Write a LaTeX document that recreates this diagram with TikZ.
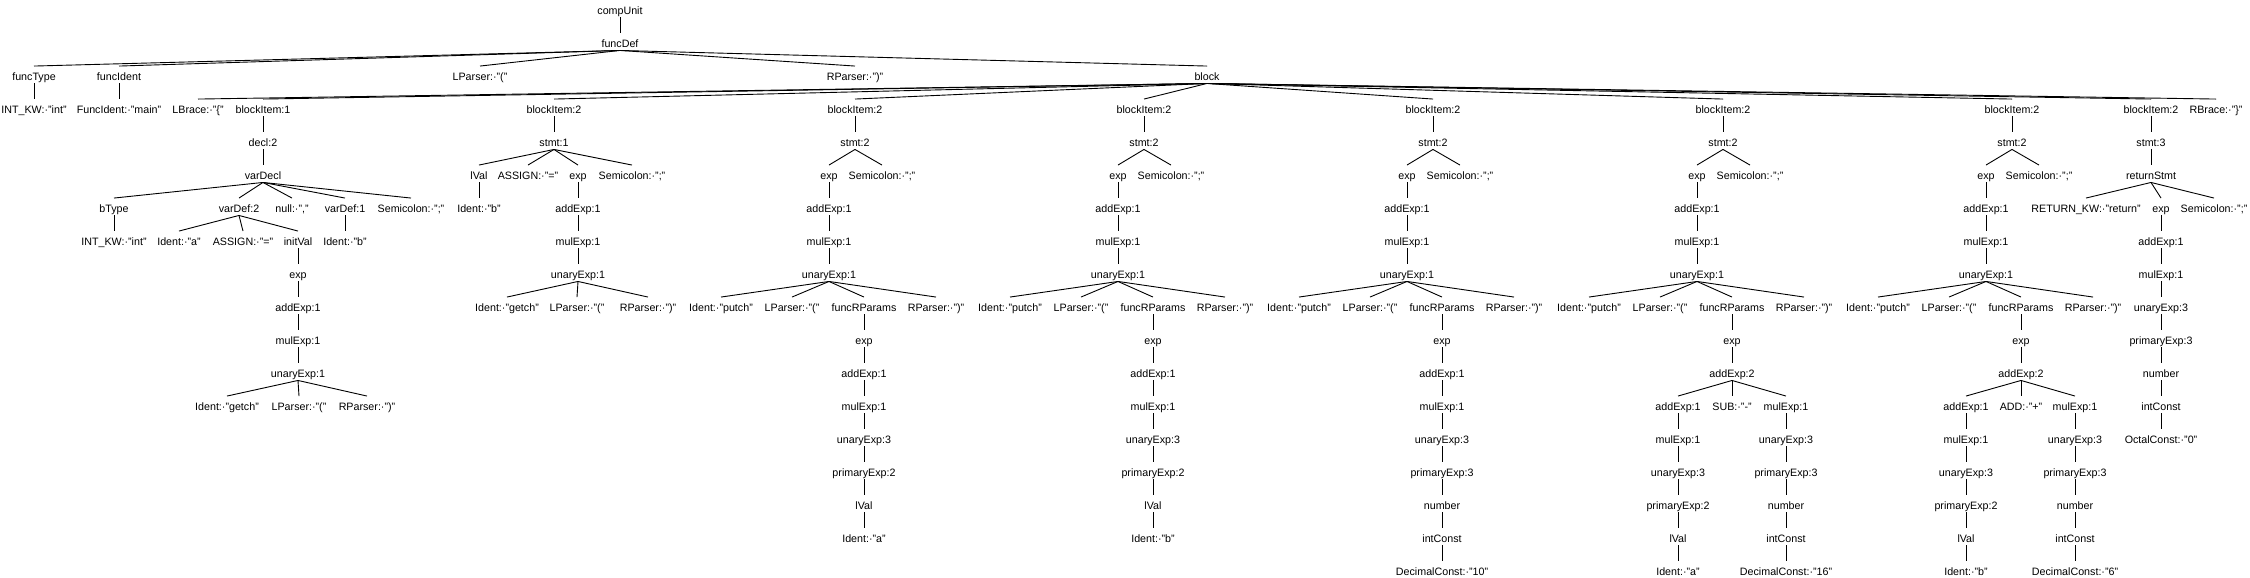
\documentclass[tikz,border=0pt]{standalone}
\usepackage{fontspec}
\setmainfont{Liberation Sans}
\usepackage{tikz}
\usetikzlibrary{positioning}

\begin{document}
\begin{tikzpicture}[x=1pt, y=-33pt, line width=0.9pt,
                    node distance=33pt, on grid]
  \tikzstyle{every node}=[anchor=base, inner sep=0pt, text height=14pt,
                          text depth=2.5pt, font=\fontsize{10.7}{12}\selectfont]
  \useasboundingbox (0,-0.4394) rectangle (2250,17.0455);

  % top of the tree
  \node (cu)              at (620,0)   {compUnit};
  \node (fd)  [below=of cu]            {funcDef};
  \node (ft)              at (34,2)    {funcType};
  \node (fi)              at (119,2)   {funcIdent};
  \node (lp)              at (480,2)   {LParser:·"("};
  \node (rp)              at (855,2)   {RParser:·")"};
  \node (blk)             at (1207,2)  {block};
  \node (ftk) [below=of ft]            {INT\_KW:·"int"};
  \node (fik) [below=of fi]            {FuncIdent:·"main"};
  \node (lb)              at (198,3)   {LBrace:·"\{"};
  \node (rb)              at (2216,3)  {RBrace:·"\}"};

  \path (cu.south) edge (fd.north)
        (fd.south) edge (ft.north) edge (fi.north) edge (lp.north)
                   edge (rp.north) edge (blk.north)
        (ft.south) edge (ftk.north)
        (fi.south) edge (fik.north)
        (blk.south) edge (lb.north) edge (rb.north);

  % blockItem:1
  \node (bi1)             at (263,3)   {blockItem:1};
  \node (dc)  [below=of bi1]           {decl:2};
  \node (vd)  [below=of dc]            {varDecl};
  \node (bt)              at (114,6)   {bType};
  \node (vdf2)            at (239,6)   {varDef:2};
  \node (nl)              at (292,6)   {null:·","};
  \node (vdf1)            at (345,6)   {varDef:1};
  \node (sc1)             at (411,6)   {Semicolon:·";"};
  \node (btk) [below=of bt]            {INT\_KW:·"int"};
  \node (ida)             at (179,7)   {Ident:·"a"};
  \node (asa)             at (243,7)   {ASSIGN:·"="};
  \node[alias=k1-0] (iv)  at (298,7)   {initVal};
  \node (idb) [below=of vdf1]          {Ident:·"b"};
  \foreach \lab [count=\i, remember=\i as \j (initially 0)] in
      {exp, addExp:1, mulExp:1, unaryExp:1} {
    \node (k1-\i) [below=of k1-\j] {\lab};
    \draw (k1-\j.south) -- (k1-\i.north);
  }
  \node (gt1)             at (227,12)  {Ident:·"getch"};
  \node (lp1)             at (299,12)  {LParser:·"("};
  \node (rp1)             at (367,12)  {RParser:·")"};

  \path (blk.south) edge (bi1.north)
        (bi1.south) edge (dc.north)
        (dc.south) edge (vd.north)
        (vd.south) edge (bt.north) edge (vdf2.north) edge (nl.north)
                   edge (vdf1.north) edge (sc1.north)
        (bt.south) edge (btk.north)
        (vdf2.south) edge (ida.north) edge (asa.north) edge (iv.north)
        (vdf1.south) edge (idb.north)
        (k1-4.south) edge (gt1.north) edge (lp1.north) edge (rp1.north);

  % blockItem:2, b = getch();
  \node (bi2)             at (554,3)   {blockItem:2};
  \node (st2) [below=of bi2]           {stmt:1};
  \node (lv2)             at (479,5)   {lVal};
  \node (as2)             at (528,5)   {ASSIGN:·"="};
  \node[alias=k2-0] (ex2) at (578,5)   {exp};
  \node (sc2)             at (632,5)   {Semicolon:·";"};
  \node (idb2) [below=of lv2]          {Ident:·"b"};
  \foreach \lab [count=\i, remember=\i as \j (initially 0)] in
      {addExp:1, mulExp:1, unaryExp:1} {
    \node (k2-\i) [below=of k2-\j] {\lab};
    \draw (k2-\j.south) -- (k2-\i.north);
  }
  \node (gt2)             at (507,9)   {Ident:·"getch"};
  \node (lp2)             at (577,9)   {LParser:·"("};
  \node (rp2)             at (648,9)   {RParser:·")"};

  \path (blk.south) edge (bi2.north)
        (bi2.south) edge (st2.north)
        (st2.south) edge (lv2.north) edge (as2.north) edge (ex2.north)
                    edge (sc2.north)
        (lv2.south) edge (idb2.north)
        (k2-3.south) edge (gt2.north) edge (lp2.north) edge (rp2.north);

  % the five putch(...) statements
  \foreach \B/\n in {855/3, 1144/4, 1433/5, 1723/6, 2012/7} {
    \node (bi\n)            at (\B,3)     {blockItem:2};
    \node (st\n) [below=of bi\n]          {stmt:2};
    \node (ex\n)            at (\B-26,5)  {exp};
    \node (sc\n)            at (\B+27,5)  {Semicolon:·";"};
    \node (ad\n) [below=of ex\n]          {addExp:1};
    \node (ml\n) [below=of ad\n]          {mulExp:1};
    \node (un\n) [below=of ml\n]          {unaryExp:1};
    \node (pu\n)            at (\B-134,9) {Ident:·"putch"};
    \node (lp\n)            at (\B-63,9)  {LParser:·"("};
    \node[alias=k\n-0] (fr\n) at (\B+9,9) {funcRParams};
    \node (rp\n)            at (\B+81,9)  {RParser:·")"};
    \path (blk.south) edge (bi\n.north)
          (bi\n.south) edge (st\n.north)
          (st\n.south) edge (ex\n.north) edge (sc\n.north)
          (ex\n.south) edge (ad\n.north)
          (ad\n.south) edge (ml\n.north)
          (ml\n.south) edge (un\n.north)
          (un\n.south) edge (pu\n.north) edge (lp\n.north)
                       edge (fr\n.north) edge (rp\n.north);
  }

  % putch(a)
  \foreach \lab [count=\i, remember=\i as \j (initially 0)] in
      {exp, addExp:1, mulExp:1, unaryExp:3, primaryExp:2, lVal, Ident:·"a"} {
    \node (k3-\i) [below=of k3-\j] {\lab};
    \draw (k3-\j.south) -- (k3-\i.north);
  }
  % putch(b)
  \foreach \lab [count=\i, remember=\i as \j (initially 0)] in
      {exp, addExp:1, mulExp:1, unaryExp:3, primaryExp:2, lVal, Ident:·"b"} {
    \node (k4-\i) [below=of k4-\j] {\lab};
    \draw (k4-\j.south) -- (k4-\i.north);
  }
  % putch(10)
  \foreach \lab [count=\i, remember=\i as \j (initially 0)] in
      {exp, addExp:1, mulExp:1, unaryExp:3, primaryExp:3, number, intConst,
       DecimalConst:·"10"} {
    \node (k5-\i) [below=of k5-\j] {\lab};
    \draw (k5-\j.south) -- (k5-\i.north);
  }

  % putch(a - 16)
  \foreach \lab [count=\i, remember=\i as \j (initially 0)] in
      {exp, addExp:2} {
    \node (k6-\i) [below=of k6-\j] {\lab};
    \draw (k6-\j.south) -- (k6-\i.north);
  }
  \node[alias=p6-0] (l6)  at (1678,12) {addExp:1};
  \node (o6) [below=of k6-2]           {SUB:·"-"};
  \node[alias=q6-0] (r6)  at (1786,12) {mulExp:1};
  \path (k6-2.south) edge (l6.north) edge (o6.north) edge (r6.north);
  \foreach \lab [count=\i, remember=\i as \j (initially 0)] in
      {mulExp:1, unaryExp:3, primaryExp:2, lVal, Ident:·"a"} {
    \node (p6-\i) [below=of p6-\j] {\lab};
    \draw (p6-\j.south) -- (p6-\i.north);
  }
  \foreach \lab [count=\i, remember=\i as \j (initially 0)] in
      {unaryExp:3, primaryExp:3, number, intConst, DecimalConst:·"16"} {
    \node (q6-\i) [below=of q6-\j] {\lab};
    \draw (q6-\j.south) -- (q6-\i.north);
  }

  % putch(b + 6)
  \foreach \lab [count=\i, remember=\i as \j (initially 0)] in
      {exp, addExp:2} {
    \node (k7-\i) [below=of k7-\j] {\lab};
    \draw (k7-\j.south) -- (k7-\i.north);
  }
  \node[alias=p7-0] (l7)  at (1966,12) {addExp:1};
  \node (o7) [below=of k7-2]           {ADD:·"+"};
  \node[alias=q7-0] (r7)  at (2075,12) {mulExp:1};
  \path (k7-2.south) edge (l7.north) edge (o7.north) edge (r7.north);
  \foreach \lab [count=\i, remember=\i as \j (initially 0)] in
      {mulExp:1, unaryExp:3, primaryExp:2, lVal, Ident:·"b"} {
    \node (p7-\i) [below=of p7-\j] {\lab};
    \draw (p7-\j.south) -- (p7-\i.north);
  }
  \foreach \lab [count=\i, remember=\i as \j (initially 0)] in
      {unaryExp:3, primaryExp:3, number, intConst, DecimalConst:·"6"} {
    \node (q7-\i) [below=of q7-\j] {\lab};
    \draw (q7-\j.south) -- (q7-\i.north);
  }

  % return 0;
  \node (bi8)             at (2151,3)  {blockItem:2};
  \node (st8) [below=of bi8]           {stmt:3};
  \node (rs8) [below=of st8]           {returnStmt};
  \node (rk8)             at (2086,6)  {RETURN\_KW:·"return"};
  \node[alias=k8-0] (ex8) at (2161,6)  {exp};
  \node (sc8)             at (2214,6)  {Semicolon:·";"};
  \foreach \lab [count=\i, remember=\i as \j (initially 0)] in
      {addExp:1, mulExp:1, unaryExp:3, primaryExp:3, number, intConst,
       OctalConst:·"0"} {
    \node (k8-\i) [below=of k8-\j] {\lab};
    \draw (k8-\j.south) -- (k8-\i.north);
  }
  \path (blk.south) edge (bi8.north)
        (bi8.south) edge (st8.north)
        (st8.south) edge (rs8.north)
        (rs8.south) edge (rk8.north) edge (ex8.north) edge (sc8.north);
\end{tikzpicture}
\end{document}
